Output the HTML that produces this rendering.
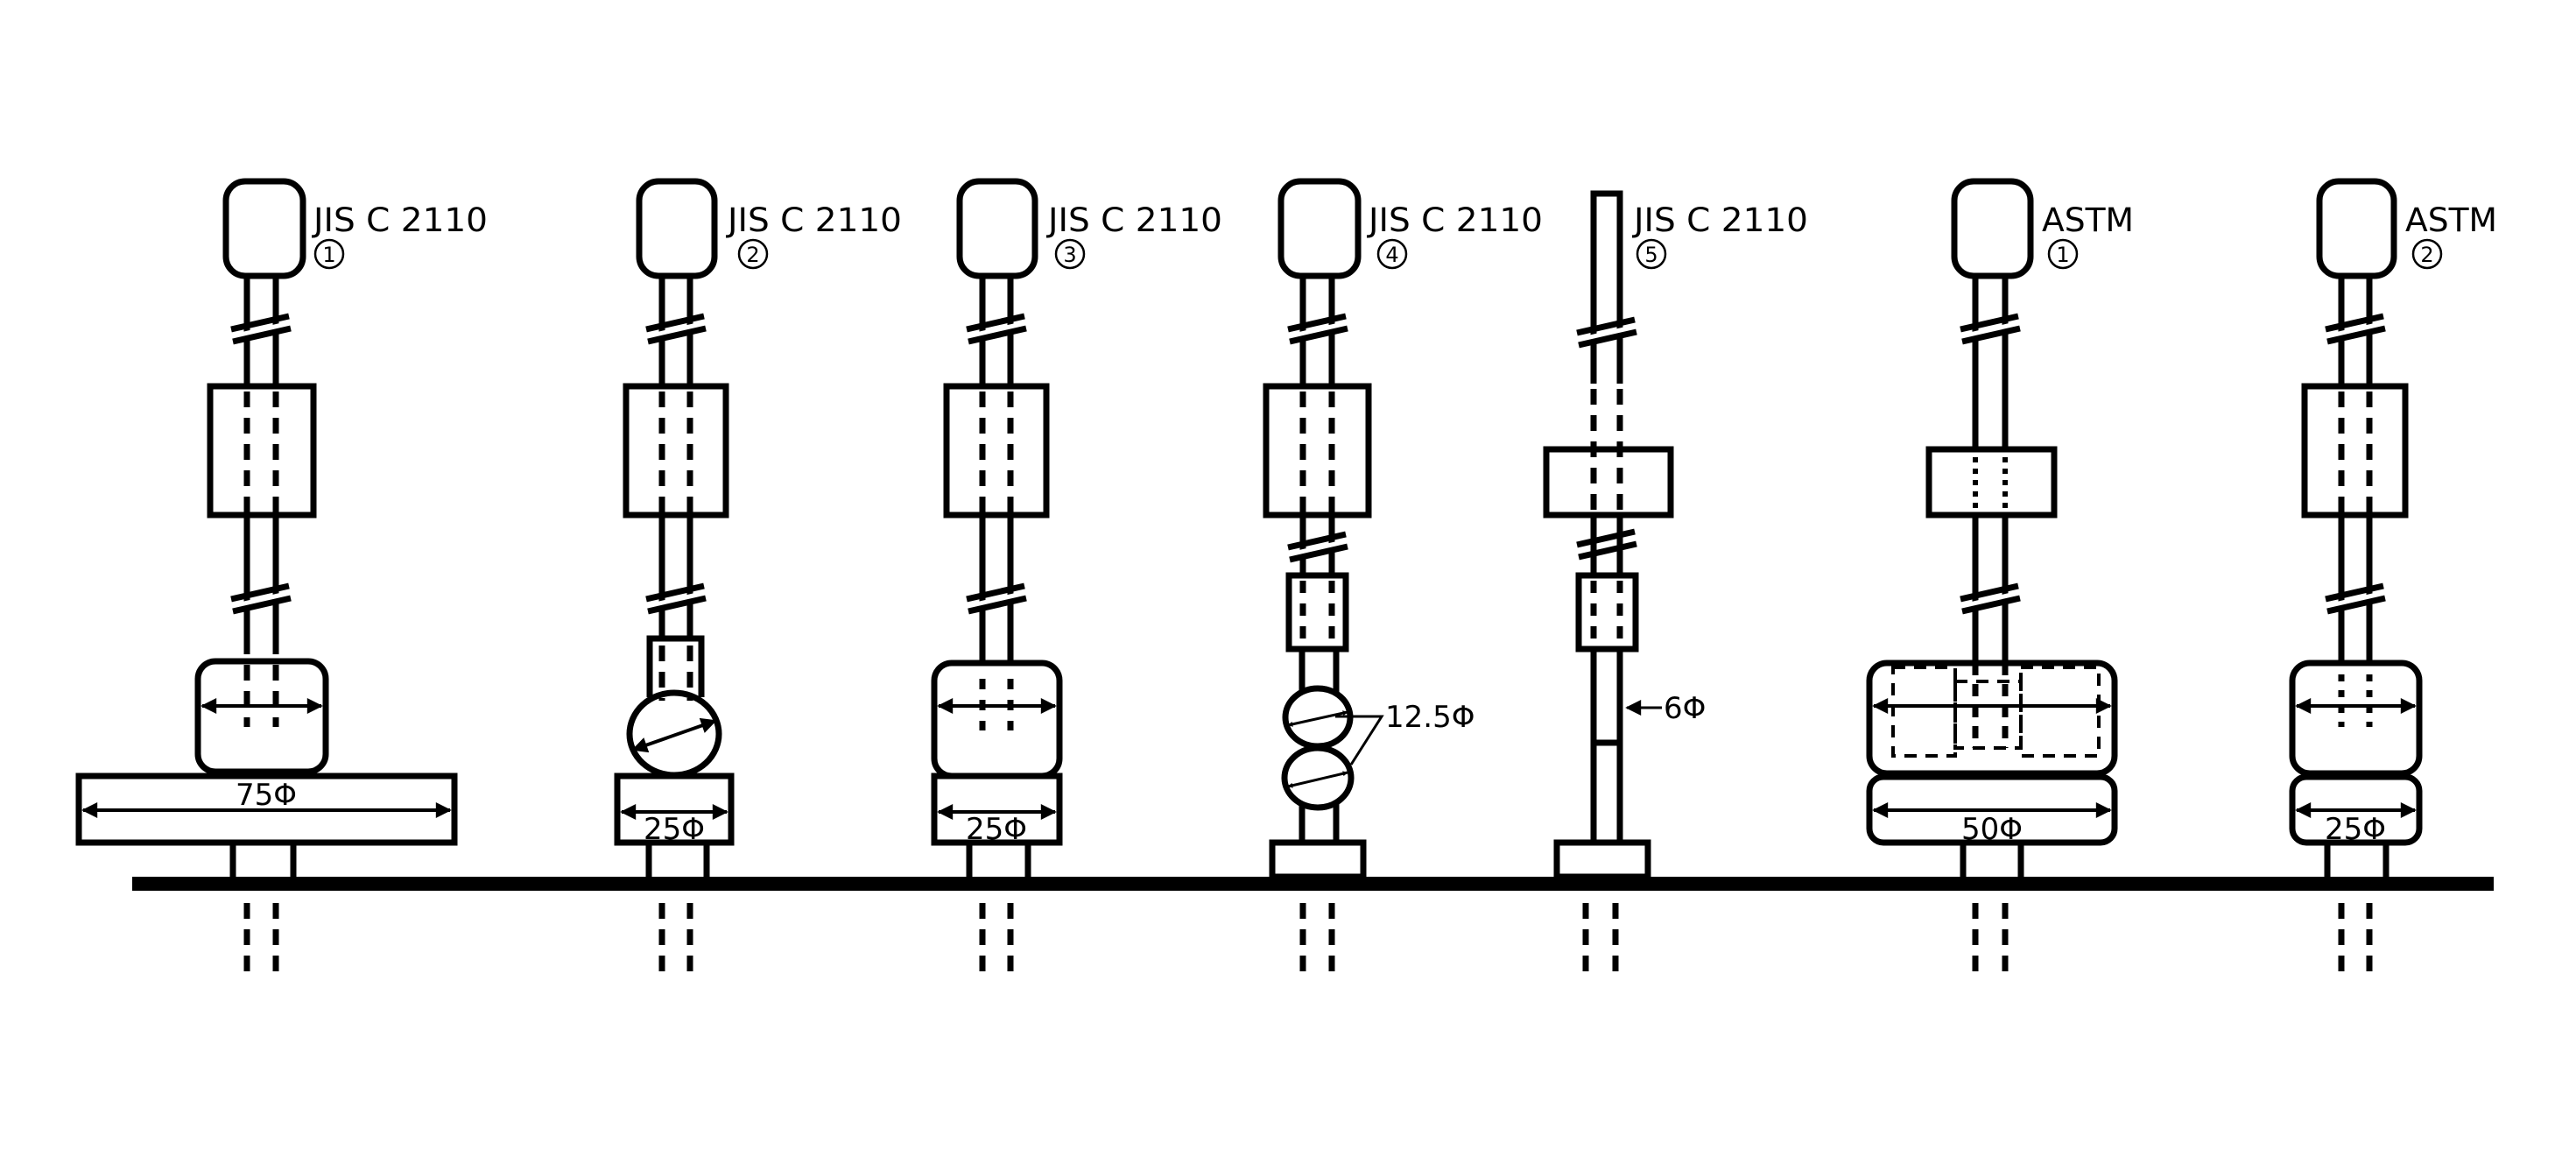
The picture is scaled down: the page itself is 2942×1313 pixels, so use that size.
<!DOCTYPE html>
<html><head><meta charset="utf-8"><style>html,body{margin:0;padding:0;background:#fff}svg{display:block}</style></head>
<body>
<svg width="2942" height="1313" viewBox="0 0 2942 1313" xmlns="http://www.w3.org/2000/svg">
<defs>
<marker id="ah" viewBox="0 0 10 10" refX="9" refY="5" markerWidth="6" markerHeight="6" orient="auto-start-reverse" markerUnits="userSpaceOnUse">
<path d="M0,0 L10,5 L0,10 z" fill="#000"/>
</marker>
<marker id="ahb" viewBox="0 0 10 10" refX="9" refY="5" markerWidth="22" markerHeight="18" orient="auto-start-reverse" markerUnits="userSpaceOnUse">
<path d="M0,0 L10,5 L0,10 z" fill="#000"/>
</marker>
<g id="brk">
<polygon points="-30,13 30,-1 30,10 -30,24" fill="#fff" stroke="none"/>
<line x1="-34" y1="8" x2="32" y2="-7"/>
<line x1="-32" y1="22" x2="34" y2="7"/>
</g>
</defs>
<g fill="none" stroke="#000" stroke-width="7">

<line x1="151" y1="1009" x2="2848" y2="1009" stroke-width="16"/>

<!-- COL1 -->
<rect x="258" y="207" width="88" height="108" rx="22"/>
<line x1="282" y1="315" x2="282" y2="441"/><line x1="315" y1="315" x2="315" y2="441"/>
<line x1="282" y1="441" x2="282" y2="588" stroke-dasharray="18 12" stroke-dashoffset="-6"/>
<line x1="315" y1="441" x2="315" y2="588" stroke-dasharray="18 12" stroke-dashoffset="-6"/>
<rect x="240" y="441" width="118" height="147"/>
<line x1="282" y1="588" x2="282" y2="729"/><line x1="315" y1="588" x2="315" y2="729"/>
<line x1="282" y1="729" x2="282" y2="830" stroke-dasharray="18 12"/>
<line x1="315" y1="729" x2="315" y2="830" stroke-dasharray="18 12"/>
<rect x="226" y="755" width="146" height="126" rx="20"/>
<rect x="90" y="886" width="429" height="76"/>
<line x1="266" y1="962" x2="266" y2="1001"/><line x1="335" y1="962" x2="335" y2="1001"/>
<line x1="282" y1="1031" x2="282" y2="1109" stroke-dasharray="18 12"/>
<line x1="315" y1="1031" x2="315" y2="1109" stroke-dasharray="18 12"/>

<!-- COL2 -->
<rect x="730" y="207" width="86" height="108" rx="22"/>
<line x1="756" y1="315" x2="756" y2="441"/><line x1="788" y1="315" x2="788" y2="441"/>
<line x1="756" y1="441" x2="756" y2="588" stroke-dasharray="18 12" stroke-dashoffset="-6"/>
<line x1="788" y1="441" x2="788" y2="588" stroke-dasharray="18 12" stroke-dashoffset="-6"/>
<rect x="715" y="441" width="114" height="147"/>
<line x1="756" y1="588" x2="756" y2="729"/><line x1="788" y1="588" x2="788" y2="729"/>
<line x1="756" y1="729" x2="756" y2="800" stroke-dasharray="18 12" stroke-dashoffset="-8"/>
<line x1="788" y1="729" x2="788" y2="800" stroke-dasharray="18 12" stroke-dashoffset="-8"/>
<path d="M742,796 L742,729 L801,729 L801,796"/>
<ellipse cx="770" cy="838" rx="51" ry="47"/>
<rect x="705" y="886" width="130" height="76"/>
<line x1="741" y1="962" x2="741" y2="1001"/><line x1="807" y1="962" x2="807" y2="1001"/>
<line x1="756" y1="1031" x2="756" y2="1109" stroke-dasharray="18 12"/>
<line x1="788" y1="1031" x2="788" y2="1109" stroke-dasharray="18 12"/>

<!-- COL3 -->
<rect x="1096" y="207" width="86" height="108" rx="22"/>
<line x1="1122" y1="315" x2="1122" y2="441"/><line x1="1154" y1="315" x2="1154" y2="441"/>
<line x1="1122" y1="441" x2="1122" y2="588" stroke-dasharray="18 12" stroke-dashoffset="-6"/>
<line x1="1154" y1="441" x2="1154" y2="588" stroke-dasharray="18 12" stroke-dashoffset="-6"/>
<rect x="1081" y="441" width="114" height="147"/>
<line x1="1122" y1="588" x2="1122" y2="757"/><line x1="1154" y1="588" x2="1154" y2="757"/>
<line x1="1122" y1="775" x2="1122" y2="834" stroke-dasharray="12 12"/>
<line x1="1154" y1="775" x2="1154" y2="834" stroke-dasharray="12 12"/>
<rect x="1067" y="757" width="143" height="129" rx="20"/>
<rect x="1067" y="886" width="143" height="76"/>
<line x1="1107" y1="962" x2="1107" y2="1001"/><line x1="1174" y1="962" x2="1174" y2="1001"/>
<line x1="1122" y1="1031" x2="1122" y2="1109" stroke-dasharray="18 12"/>
<line x1="1154" y1="1031" x2="1154" y2="1109" stroke-dasharray="18 12"/>

<!-- COL4 -->
<rect x="1463" y="207" width="88" height="108" rx="22"/>
<line x1="1488" y1="315" x2="1488" y2="441"/><line x1="1521" y1="315" x2="1521" y2="441"/>
<line x1="1488" y1="441" x2="1488" y2="588" stroke-dasharray="18 12" stroke-dashoffset="-6"/>
<line x1="1521" y1="441" x2="1521" y2="588" stroke-dasharray="18 12" stroke-dashoffset="-6"/>
<rect x="1446" y="441" width="117" height="147"/>
<line x1="1488" y1="588" x2="1488" y2="657"/><line x1="1521" y1="588" x2="1521" y2="657"/>
<line x1="1488" y1="657" x2="1488" y2="730" stroke-dasharray="14 12" stroke-dashoffset="-6"/>
<line x1="1521" y1="657" x2="1521" y2="730" stroke-dasharray="14 12" stroke-dashoffset="-6"/>
<rect x="1472" y="657" width="65" height="84"/>
<line x1="1487" y1="741" x2="1487" y2="790"/><line x1="1526" y1="741" x2="1526" y2="790"/>
<ellipse cx="1505" cy="819" rx="37" ry="33"/>
<ellipse cx="1505" cy="888" rx="38" ry="34"/>
<line x1="1487" y1="918" x2="1487" y2="962"/><line x1="1526" y1="918" x2="1526" y2="962"/>
<rect x="1453" y="962" width="104" height="39"/>
<line x1="1488" y1="1031" x2="1488" y2="1109" stroke-dasharray="18 12"/>
<line x1="1521" y1="1031" x2="1521" y2="1109" stroke-dasharray="18 12"/>

<!-- COL5 -->
<path d="M1820,438 L1820,221 L1850,221 L1850,438"/>
<line x1="1820" y1="438" x2="1820" y2="588" stroke-dasharray="18 12" stroke-dashoffset="-6"/>
<line x1="1850" y1="438" x2="1850" y2="588" stroke-dasharray="18 12" stroke-dashoffset="-6"/>
<rect x="1766" y="513" width="142" height="75"/>
<line x1="1820" y1="588" x2="1820" y2="657"/><line x1="1850" y1="588" x2="1850" y2="657"/>
<line x1="1820" y1="657" x2="1820" y2="730" stroke-dasharray="14 12" stroke-dashoffset="-6"/>
<line x1="1850" y1="657" x2="1850" y2="730" stroke-dasharray="14 12" stroke-dashoffset="-6"/>
<rect x="1803" y="657" width="65" height="84"/>
<line x1="1820" y1="741" x2="1820" y2="962"/><line x1="1850" y1="741" x2="1850" y2="962"/>
<line x1="1820" y1="848" x2="1850" y2="848"/>
<rect x="1778" y="962" width="104" height="39"/>
<line x1="1811" y1="1031" x2="1811" y2="1109" stroke-dasharray="18 12"/>
<line x1="1845" y1="1031" x2="1845" y2="1109" stroke-dasharray="18 12"/>

<!-- COL6 -->
<rect x="2232" y="207" width="87" height="108" rx="22"/>
<line x1="2256" y1="315" x2="2256" y2="513"/><line x1="2290" y1="315" x2="2290" y2="513"/>
<line x1="2256" y1="522" x2="2256" y2="588" stroke-width="6" stroke-dasharray="6 7"/>
<line x1="2290" y1="522" x2="2290" y2="588" stroke-width="6" stroke-dasharray="6 7"/>
<rect x="2203" y="513" width="143" height="75"/>
<line x1="2256" y1="588" x2="2256" y2="757"/><line x1="2290" y1="588" x2="2290" y2="757"/>
<line x1="2256" y1="757" x2="2256" y2="854" stroke-dasharray="14 10"/>
<line x1="2290" y1="757" x2="2290" y2="854" stroke-dasharray="14 10"/>
<rect x="2135" y="757" width="280" height="126" rx="20"/>
<rect x="2135" y="887" width="280" height="75" rx="16"/>
<g stroke-width="4" stroke-dasharray="14 10">
<rect x="2162" y="762" width="71" height="101"/>
<rect x="2308" y="762" width="89" height="101"/>
<rect x="2233" y="778" width="75" height="76"/>
</g>
<line x1="2242" y1="962" x2="2242" y2="1001"/><line x1="2308" y1="962" x2="2308" y2="1001"/>
<line x1="2256" y1="1031" x2="2256" y2="1109" stroke-dasharray="18 12"/>
<line x1="2290" y1="1031" x2="2290" y2="1109" stroke-dasharray="18 12"/>

<!-- COL7 -->
<rect x="2649" y="207" width="85" height="108" rx="22"/>
<line x1="2674" y1="315" x2="2674" y2="441"/><line x1="2706" y1="315" x2="2706" y2="441"/>
<line x1="2674" y1="441" x2="2674" y2="588" stroke-dasharray="18 12" stroke-dashoffset="-6"/>
<line x1="2706" y1="441" x2="2706" y2="588" stroke-dasharray="18 12" stroke-dashoffset="-6"/>
<rect x="2632" y="441" width="115" height="147"/>
<line x1="2674" y1="588" x2="2674" y2="757"/><line x1="2706" y1="588" x2="2706" y2="757"/>
<line x1="2674" y1="770" x2="2674" y2="830" stroke-dasharray="8 10"/>
<line x1="2706" y1="770" x2="2706" y2="830" stroke-dasharray="8 10"/>
<rect x="2618" y="757" width="145" height="126" rx="20"/>
<rect x="2618" y="887" width="145" height="75" rx="16"/>
<line x1="2658" y1="962" x2="2658" y2="1001"/><line x1="2725" y1="962" x2="2725" y2="1001"/>
<line x1="2674" y1="1031" x2="2674" y2="1109" stroke-dasharray="18 12"/>
<line x1="2706" y1="1031" x2="2706" y2="1109" stroke-dasharray="18 12"/>
</g>

<g stroke="#000" stroke-width="7">
<use href="#brk" transform="translate(298,368)"/>
<use href="#brk" transform="translate(298,676)"/>
<use href="#brk" transform="translate(772,368)"/>
<use href="#brk" transform="translate(772,676)"/>
<use href="#brk" transform="translate(1138,368)"/>
<use href="#brk" transform="translate(1138,676)"/>
<use href="#brk" transform="translate(1505,368)"/>
<use href="#brk" transform="translate(1505,617)"/>
<use href="#brk" transform="translate(1835,372)"/>
<line x1="1801" y1="622" x2="1867" y2="607"/>
<line x1="1803" y1="636" x2="1869" y2="621"/>
<use href="#brk" transform="translate(2273,368)"/>
<use href="#brk" transform="translate(2273,676)"/>
<use href="#brk" transform="translate(2690,368)"/>
<use href="#brk" transform="translate(2690,676)"/>
</g>

<g stroke="#000" stroke-width="4" marker-start="url(#ahb)" marker-end="url(#ahb)">
<line x1="231" y1="806" x2="367" y2="806"/>
<line x1="95" y1="925" x2="514" y2="925"/>
<line x1="710" y1="927" x2="830" y2="927"/>
<line x1="1072" y1="806" x2="1205" y2="806"/>
<line x1="1072" y1="927" x2="1205" y2="927"/>
<line x1="2140" y1="806" x2="2410" y2="806"/>
<line x1="2140" y1="925" x2="2410" y2="925"/>
<line x1="2623" y1="806" x2="2758" y2="806"/>
<line x1="2623" y1="925" x2="2758" y2="925"/>
<line x1="723" y1="856" x2="817" y2="823"/>
</g>
<g stroke="#000" stroke-width="3" marker-start="url(#ah)" marker-end="url(#ah)">
<line x1="1471" y1="828" x2="1539" y2="813"/>
<line x1="1471" y1="898" x2="1539" y2="882"/>
</g>
<g stroke="#000" stroke-width="3" fill="none">
<polyline points="1525,818 1578,818 1543,873"/>
<line x1="1858" y1="808" x2="1898" y2="808" marker-start="url(#ahb)"/>
</g>

<g font-family="'DejaVu Sans','Liberation Sans',sans-serif" font-size="37" fill="#000">
<text x="358" y="264" textLength="199" lengthAdjust="spacingAndGlyphs">JIS C 2110</text>
<text x="831" y="264" textLength="199" lengthAdjust="spacingAndGlyphs">JIS C 2110</text>
<text x="1197" y="264" textLength="199" lengthAdjust="spacingAndGlyphs">JIS C 2110</text>
<text x="1563" y="264" textLength="199" lengthAdjust="spacingAndGlyphs">JIS C 2110</text>
<text x="1866" y="264" textLength="199" lengthAdjust="spacingAndGlyphs">JIS C 2110</text>
<text x="2332" y="264" textLength="105" lengthAdjust="spacingAndGlyphs">ASTM</text>
<text x="2747" y="264" textLength="105" lengthAdjust="spacingAndGlyphs">ASTM</text>
<text x="304" y="919" font-size="34" text-anchor="middle">75Φ</text>
<text x="770" y="958" font-size="34" text-anchor="middle">25Φ</text>
<text x="1138" y="958" font-size="34" text-anchor="middle">25Φ</text>
<text x="2275" y="958" font-size="34" text-anchor="middle">50Φ</text>
<text x="2690" y="958" font-size="34" text-anchor="middle">25Φ</text>
<text x="1582" y="830" font-size="34">12.5Φ</text>
<text x="1900" y="820" font-size="34">6Φ</text>
</g>
<g fill="none" stroke="#000" stroke-width="2.5">
<circle cx="376" cy="290" r="16"/>
<circle cx="860" cy="290" r="16"/>
<circle cx="1222" cy="290" r="16"/>
<circle cx="1590" cy="290" r="16"/>
<circle cx="1886" cy="290" r="16"/>
<circle cx="2356" cy="290" r="16"/>
<circle cx="2772" cy="290" r="16"/>
</g>
<g font-family="'DejaVu Sans','Liberation Sans',sans-serif" font-size="24" fill="#000" text-anchor="middle">
<text x="376" y="299">1</text>
<text x="860" y="299">2</text>
<text x="1222" y="299">3</text>
<text x="1590" y="299">4</text>
<text x="1886" y="299">5</text>
<text x="2356" y="299">1</text>
<text x="2772" y="299">2</text>
</g>
</svg>
</body></html>
